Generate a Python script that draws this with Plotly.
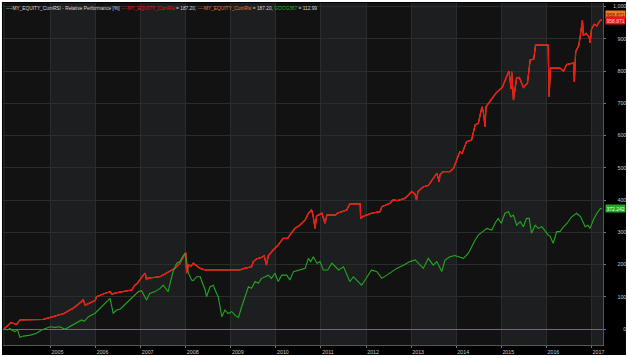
import plotly.graph_objects as go

# ---------------- data ----------------
red_x = [2003.97, 2004.06, 2004.12, 2004.17, 2004.25, 2004.32, 2004.60, 2004.84, 2005.00, 2005.12,
         2005.21, 2005.30, 2005.43, 2005.50, 2005.69, 2005.72, 2005.77, 2005.85, 2005.99, 2006.02,
         2006.10, 2006.20, 2006.32, 2006.36, 2006.45, 2006.69, 2006.80, 2006.87, 2006.93, 2007.02,
         2007.10, 2007.13, 2007.16, 2007.43, 2007.58, 2007.65, 2007.76, 2007.87, 2007.95, 2008.00,
         2008.02, 2008.06, 2008.12, 2008.17, 2008.24, 2008.32, 2008.43, 2009.20, 2009.30, 2009.46,
         2009.50, 2009.57, 2009.68, 2009.74, 2009.79, 2009.83, 2009.94, 2010.05, 2010.16, 2010.26,
         2010.31, 2010.42, 2010.53, 2010.65, 2010.72, 2010.79, 2010.82, 2010.87, 2010.90, 2011.02,
         2011.09, 2011.13, 2011.32, 2011.36, 2011.57, 2011.64, 2011.87, 2011.88, 2011.95, 2012.12,
         2012.31, 2012.35, 2012.53, 2012.60, 2012.70, 2012.86, 2012.93, 2013.01, 2013.08, 2013.12,
         2013.15, 2013.27, 2013.38, 2013.49, 2013.57, 2013.62, 2013.64, 2013.71, 2013.86, 2013.94,
         2014.01, 2014.05, 2014.08, 2014.13, 2014.23, 2014.34, 2014.38, 2014.42, 2014.49, 2014.53,
         2014.57, 2014.60, 2014.64, 2014.66, 2014.75, 2014.89, 2015.02, 2015.10, 2015.17, 2015.22,
         2015.23, 2015.27, 2015.34, 2015.40, 2015.49, 2015.58, 2015.64, 2015.72, 2015.76, 2016.04,
         2016.06, 2016.09, 2016.30, 2016.38, 2016.45, 2016.60, 2016.62, 2016.65, 2016.72, 2016.76,
         2016.80, 2016.82, 2016.88, 2016.95, 2016.97, 2017.00, 2017.06, 2017.12, 2017.19, 2017.23]
red_y = [0, 12, 20, 18, 14, 28, 29, 30, 36, 40,
         43, 48, 59, 64, 85, 92, 74, 79, 88, 100,
         105, 110, 116, 108, 112, 118, 121, 136, 142, 160,
         173, 152, 158, 162, 173, 178, 188, 204, 224, 237,
         173, 198, 195, 204, 196, 188, 183, 183, 188, 193,
         209, 217, 222, 227, 198, 227, 245, 260, 281, 281,
         291, 312, 322, 338, 359, 369, 355, 312, 350, 359,
         328, 353, 353, 359, 369, 388, 388, 343, 350, 359,
         364, 379, 390, 400, 398, 405, 414, 426, 420, 400,
         426, 441, 445, 467, 483, 457, 478, 488, 488, 498,
         524, 534, 550, 545, 581, 586, 612, 633, 638, 669,
         689, 675, 627, 689, 705, 733, 749, 775, 800, 744,
         798, 710, 778, 780, 749, 762, 834, 837, 880, 880,
         720, 809, 809, 800, 820, 825, 767, 860, 880, 917,
         958, 910, 917, 905, 887, 930, 945, 940, 956, 958.871]

green_x = [2003.97, 2004.05, 2004.10, 2004.14, 2004.21, 2004.27, 2004.32, 2004.40, 2004.55, 2004.69,
           2004.80, 2004.92, 2004.99, 2005.10, 2005.21, 2005.32, 2005.43, 2005.58, 2005.69, 2005.75,
           2005.84, 2005.99, 2006.10, 2006.21, 2006.32, 2006.39, 2006.47, 2006.55, 2006.69, 2006.80,
           2006.95, 2007.02, 2007.10, 2007.13, 2007.20, 2007.32, 2007.43, 2007.50, 2007.58, 2007.61,
           2007.67, 2007.72, 2007.80, 2007.87, 2007.92, 2007.98, 2008.02, 2008.06, 2008.13, 2008.17,
           2008.24, 2008.32, 2008.43, 2008.46, 2008.54, 2008.61, 2008.65, 2008.72, 2008.80, 2008.87,
           2008.94, 2009.02, 2009.09, 2009.17, 2009.24, 2009.31, 2009.39, 2009.46, 2009.54, 2009.61,
           2009.68, 2009.76, 2009.83, 2009.90, 2009.98, 2010.05, 2010.13, 2010.24, 2010.31, 2010.39,
           2010.50, 2010.65, 2010.72, 2010.77, 2010.83, 2010.91, 2010.98, 2011.05, 2011.15, 2011.24,
           2011.32, 2011.39, 2011.50, 2011.57, 2011.64, 2011.72, 2011.79, 2011.90, 2011.98, 2012.12,
           2012.24, 2012.35, 2012.46, 2012.57, 2012.68, 2012.83, 2012.97, 2013.09, 2013.20, 2013.27,
           2013.38, 2013.49, 2013.57, 2013.68, 2013.75, 2013.86, 2013.97, 2014.08, 2014.16, 2014.27,
           2014.34, 2014.42, 2014.49, 2014.60, 2014.68, 2014.79, 2014.86, 2014.93, 2015.00, 2015.08,
           2015.16, 2015.21, 2015.27, 2015.34, 2015.42, 2015.49, 2015.56, 2015.62, 2015.67, 2015.75,
           2015.82, 2015.90, 2015.97, 2016.04, 2016.08, 2016.15, 2016.23, 2016.30, 2016.38, 2016.46,
           2016.56, 2016.67, 2016.76, 2016.86, 2016.92, 2016.97, 2017.04, 2017.12, 2017.20, 2017.23]
green_y = [0, -3, 2, -3, -8, -2, -26, -22, -19, -13,
           -3, 2, 7, 5, 7, -1, 7, 18, 28, 24,
           38, 49, 64, 80, 95, 49, 59, 62, 80, 95,
           116, 119, 100, 90, 110, 116, 126, 136, 121, 116,
           152, 178, 204, 209, 222, 235, 209, 173, 152, 150,
           162, 162, 121, 100, 131, 136, 121, 100, 38, 59,
           48, 54, 43, 36, 69, 100, 131, 126, 147, 142,
           157, 162, 167, 157, 173, 147, 167, 167, 152, 178,
           183, 188, 219, 209, 224, 204, 209, 183, 183, 204,
           193, 183, 193, 167, 147, 162, 152, 136, 152, 183,
           178, 157, 167, 178, 188, 198, 209, 214, 198, 188,
           219, 198, 209, 178, 214, 224, 228, 224, 219, 235,
           255, 276, 291, 302, 312, 307, 328, 343, 328, 359,
           364, 348, 353, 322, 333, 317, 343, 343, 297, 322,
           312, 317, 302, 291, 288, 266, 302, 302, 317, 328,
           348, 359, 348, 317, 322, 312, 338, 359, 374, 372.242]

year_ticks = [2005, 2006, 2007, 2008, 2009, 2010, 2011, 2012, 2013, 2014, 2015, 2016, 2017]
year_labels = [str(y) for y in year_ticks]
value_ticks = [0, 100, 200, 300, 400, 500, 600, 700, 800, 900, 1000]
value_labels = ["0", "100", "200", "300", "400", "500", "600", "700", "800", "900", "1,000"]
band_years = list(range(2003, 2018))

# ---------------- styling ----------------
RED = "#f01414"
ORANGE = "#f07a2a"
GREEN = "#22a822"
FONT = "Liberation Sans, Arial, sans-serif"
TICK_COLOR = "#c9c9c9"


def pad_label(s):
    # right-align labels (Arial metrics: digit = 2 spaces, comma = 1 space)
    width = sum(2 if c.isdigit() else 1 for c in s)
    return "\u00a0" * (9 - width) + s


fig = go.Figure()

fig.add_trace(go.Scatter(x=red_x, y=red_y, mode="lines", line=dict(color=ORANGE, width=1.2),
                         name="MY_EQUITY_CumRSI (2)", showlegend=False, hoverinfo="skip"))
fig.add_trace(go.Scatter(x=red_x, y=red_y, mode="lines", line=dict(color=RED, width=1.2),
                         name="MY_EQUITY_CumRSI", showlegend=False))
fig.add_trace(go.Scatter(x=green_x, y=green_y, mode="lines", line=dict(color=GREEN, width=1.1),
                         name="GOOG367", showlegend=False))

shapes = [dict(type="rect", xref="paper", yref="paper", x0=-0.0017, x1=1.0383, y0=-0.0292, y1=1.003,
               fillcolor="#000000", line=dict(width=0), layer="below")]
for yr in band_years:
    shapes.append(dict(type="rect", xref="x", yref="paper", x0=max(yr, 2003.946), x1=min(yr + 1, 2017.256),
                       y0=0, y1=1, fillcolor="#1d1e20" if yr % 2 == 1 else "#121212",
                       line=dict(width=0), layer="below"))

title_html = (
    "<span style='color:#d8d8d8'>----MY_EQUITY_CumRSI - Relative Performance [%]</span> "
    f"<span style='color:{RED}'>----MY_EQUITY_CumRsi</span><span style='color:#d8d8d8'> = 187.20,</span> "
    f"<span style='color:{ORANGE}'>----MY_EQUITY_CumRsi</span><span style='color:#d8d8d8'> = 187.20,</span> "
    f"<span style='color:{GREEN}'>GOOG367</span><span style='color:#d8d8d8'> = 112.99</span>"
)

annotations = [
    dict(text=title_html, xref="paper", yref="paper", x=0.002, y=0.998, xanchor="left", yanchor="top",
         showarrow=False, font=dict(size=4.8, family=FONT)),
    dict(text=f"{red_y[-1]:.3f}", xref="paper", yref="y", x=1.003, y=red_y[-1], yshift=5,
         xanchor="left", yanchor="middle", showarrow=False, bgcolor=ORANGE, borderpad=0.5,
         font=dict(size=5, family=FONT, color="#5a1a00")),
    dict(text=f"{red_y[-1]:.3f}", xref="paper", yref="y", x=1.003, y=red_y[-1], yshift=-1,
         xanchor="left", yanchor="middle", showarrow=False, bgcolor=RED, borderpad=0.5,
         font=dict(size=5, family=FONT, color="#ffd0d0")),
    dict(text=f"{green_y[-1]:.3f}", xref="paper", yref="y", x=1.003, y=green_y[-1],
         xanchor="left", yanchor="middle", showarrow=False, bgcolor=GREEN, borderpad=0.5,
         font=dict(size=5, family=FONT, color="#e8ffe8")),
]

fig.update_layout(
    width=628, height=358,
    margin=dict(l=3, r=25, t=3, b=13),
    paper_bgcolor="#ffffff",
    plot_bgcolor="#121212",
    shapes=shapes,
    annotations=annotations,
    showlegend=False,
    font=dict(family=FONT, size=5.3, color=TICK_COLOR),
    xaxis=dict(
        range=[2003.946, 2017.256], tickmode="array", tickvals=year_ticks, ticktext=year_labels,
        showgrid=True, gridcolor="#2b2c2e", gridwidth=1,
        showline=True, linecolor="#555555", linewidth=1,
        ticks="outside", ticklen=2, tickcolor="#777777",
        ticklabelshift=7, ticklabelstandoff=0,
        tickfont=dict(size=5.3, color=TICK_COLOR, family=FONT),
        zeroline=False, fixedrange=True,
    ),
    yaxis=dict(
        range=[-49.6, 1010.9], side="right", tickmode="array", tickvals=value_ticks,
        ticktext=[pad_label(s) for s in value_labels],
        showgrid=True, gridcolor="#2b2c2e", gridwidth=1,
        showline=True, linecolor="#555555", linewidth=1,
        ticks="outside", ticklen=2, tickcolor="#777777",
        ticklabelstandoff=6,
        tickfont=dict(size=5.3, color=TICK_COLOR, family=FONT),
        zeroline=True, zerolinecolor="#7a761c", zerolinewidth=1, fixedrange=True,
    ),
)

fig.write_html("out.html", config={"displayModeBar": False},
               post_script="document.body.style.margin='0';document.body.style.overflow='hidden';")
